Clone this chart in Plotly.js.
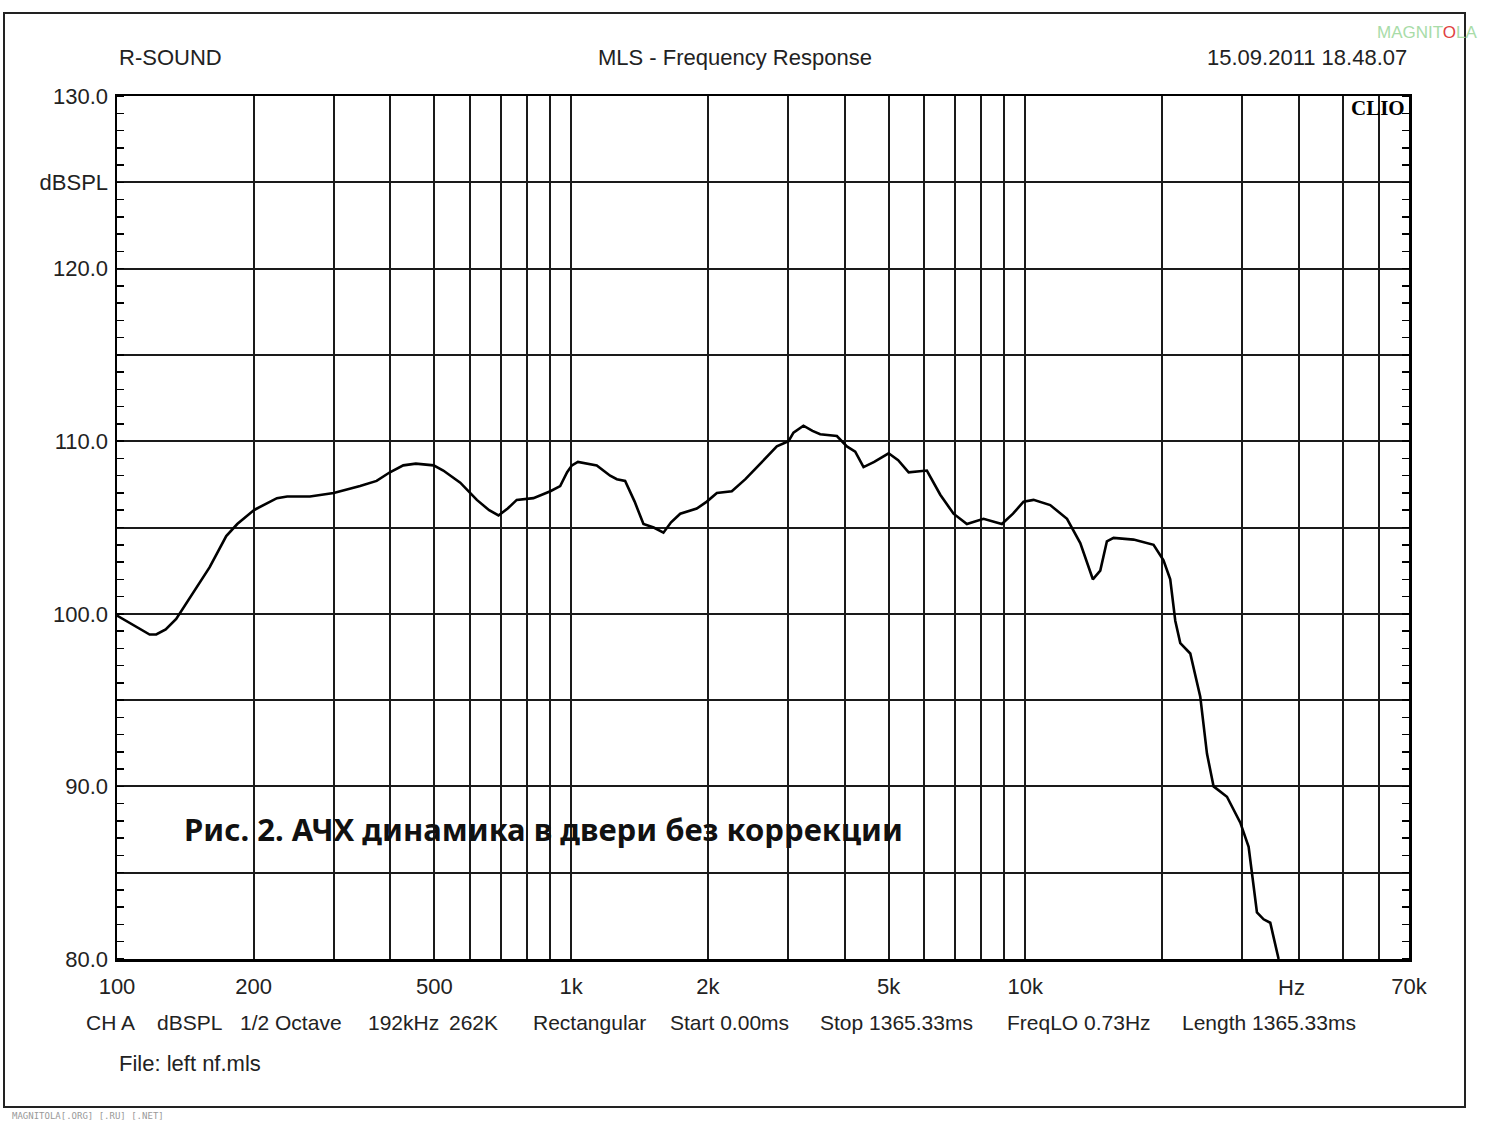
<!DOCTYPE html>
<html>
<head>
<meta charset="utf-8">
<script src="https://cdn.plot.ly/plotly-3.0.1.min.js"></script>
<style>
  html, body { margin: 0; padding: 0; background: #ffffff; }
  #chart { width: 1500px; height: 1126px; }
</style>
</head>
<body>
<div id="chart"></div>
<script>
// Frequency (Hz) of each read point
const freqHz = [100, 108, 118, 122, 128, 135, 147, 160, 174, 184, 200, 213, 225, 237, 266, 300, 343, 373, 399, 427, 455, 498, 523, 570, 620, 660, 692, 725, 759, 826, 900, 946, 980, 1004, 1035, 1139, 1219, 1261, 1315, 1380, 1443, 1520, 1597, 1660, 1739, 1891, 1990, 2094, 2259, 2420, 2609, 2838, 3011, 3088, 3248, 3400, 3536, 3848, 4048, 4223, 4405, 4650, 5002, 5250, 5537, 6073, 6500, 6952, 7440, 8094, 8884, 9400, 9915, 10430, 11350, 12360, 13220, 14090, 14630, 15130, 15650, 17320, 19170, 20160, 20860, 21400, 21950, 23090, 24290, 25130, 25990, 27810, 29760, 31040, 32380, 33490, 34640, 36140];
// Level (dBSPL) at each frequency
const levelDb = [99.9, 99.4, 98.8, 98.8, 99.1, 99.7, 101.2, 102.7, 104.5, 105.2, 106.0, 106.4, 106.7, 106.8, 106.8, 107.0, 107.4, 107.7, 108.2, 108.6, 108.7, 108.6, 108.3, 107.6, 106.6, 106.0, 105.7, 106.1, 106.6, 106.7, 107.1, 107.4, 108.2, 108.6, 108.8, 108.6, 108.0, 107.8, 107.7, 106.5, 105.2, 105.0, 104.7, 105.3, 105.8, 106.1, 106.5, 107.0, 107.1, 107.8, 108.7, 109.7, 110.0, 110.5, 110.9, 110.6, 110.4, 110.3, 109.7, 109.4, 108.5, 108.8, 109.3, 108.9, 108.2, 108.3, 106.9, 105.8, 105.2, 105.5, 105.2, 105.8, 106.5, 106.6, 106.3, 105.5, 104.1, 102.0, 102.5, 104.2, 104.4, 104.3, 104.0, 103.1, 102.0, 99.6, 98.3, 97.7, 95.2, 91.9, 90.0, 89.4, 87.9, 86.5, 82.7, 82.3, 82.1, 80.0];

// X grid positions and labels
const xGridHz = [100, 200, 300, 400, 500, 600, 700, 800, 900, 1000, 2000, 3000, 4000, 5000, 6000, 7000, 8000, 9000, 10000, 20000, 30000, 40000, 50000, 60000, 70000];
const xGridLabels = ["100", "200", "", "", "500", "", "", "", "", "1k", "2k", "", "", "5k", "", "", "", "", "10k", "", "", "", "", "", "70k"];
// Y grid positions and labels
const yGridDb = [80, 85, 90, 95, 100, 105, 110, 115, 120, 125, 130];
const yGridLabels = ["80.0", "", "90.0", "", "100.0", "", "110.0", "", "120.0", "dBSPL", "130.0"];

const headerLeft = "R-SOUND";
const headerCenter = "MLS - Frequency Response";
const headerRight = "15.09.2011 18.48.07";
const unitLabel = "Hz";
const infoItems = ["CH A", "dBSPL", "1/2 Octave", "192kHz", "262K", "Rectangular", "Start 0.00ms", "Stop 1365.33ms", "FreqLO 0.73Hz", "Length 1365.33ms"];
const fileLabel = "File: left nf.mls";
const captionText = "Рис. 2. АЧХ динамика в двери без коррекции";
const logoText = "CLIO";
const watermarkText = "MAGNITOLA[.ORG] [.RU] [.NET]";

// layout helpers (pixel positions of the page)
const W = 1500, H = 1126;
const L = 117, R = 1409, T = 96, B = 959;
const px = (x) => (x - L) / (R - L);
const py = (y) => (B - y) / (B - T);
const infoLeftPx = [84, 155, 238, 366, 447, 531, 668, 818, 1005, 1180];

const font = "Liberation Sans, Arial, sans-serif";
const txtColor = "#222222";

const trace = {
  x: freqHz, y: levelDb, type: "scatter", mode: "lines",
  line: { color: "#000000", width: 2.6, shape: "linear" },
  hoverinfo: "skip"
};

const textAnn = (text, x, y, anchor, size, fam, color) => ({
  text: text, xref: "paper", yref: "paper", x: px(x), y: py(y), xanchor: anchor, yanchor: "middle",
  showarrow: false, font: { family: fam || font, size: size || 22, color: color || txtColor }
});

const annotations = [
  textAnn(headerLeft, 117, 58, "left"),
  textAnn(headerCenter, 735, 58, "center"),
  textAnn(headerRight, 1409, 58, "right"),
  textAnn("<b>" + logoText + "</b>", 1407, 108, "right", 21, "Liberation Serif, serif", "#000"),
  textAnn(unitLabel, 1291, 987, "center"),
  textAnn(fileLabel, 117, 1063, "left"),
  textAnn("<b>" + captionText + "</b>", 182, 829, "left", 31, "Noto Sans, sans-serif", "#111"),
  textAnn(watermarkText, 10, 1116, "left", 9, "DejaVu Sans Mono, monospace", "#999"),
  textAnn("MAGNIT<span style='color:#e04040'>O</span>LA", 1480, 32, "right", 17, "Liberation Sans Narrow, Liberation Sans, sans-serif", "#a8dca8")
];
infoItems.forEach((t, i) => annotations.push(textAnn(t, infoLeftPx[i], 1023, "left", 21)));

const shapes = [
  { type: "rect", xref: "paper", yref: "paper", x0: px(4), x1: px(1465), y0: py(1107), y1: py(13), line: { color: "#222", width: 2 }, fillcolor: "rgba(0,0,0,0)", layer: "below" }
];

const layout = {
  width: W, height: H,
  margin: { l: L, r: W - R, t: T, b: H - B, pad: 0 },
  paper_bgcolor: "#ffffff", plot_bgcolor: "#ffffff",
  showlegend: false,
  xaxis: {
    type: "log", range: [2, Math.log10(70000)],
    tickmode: "array", tickvals: xGridHz, ticktext: xGridLabels,
    showgrid: true, gridcolor: "#1a1a1a", gridwidth: 2,
    showline: true, linecolor: "#000", linewidth: 2.5, mirror: true,
    ticks: "", ticklabelstandoff: 6,
    tickfont: { family: font, size: 22, color: txtColor },
    zeroline: false, fixedrange: true
  },
  yaxis: {
    range: [80, 130],
    tickmode: "array", tickvals: yGridDb, ticktext: yGridLabels,
    showgrid: true, gridcolor: "#1a1a1a", gridwidth: 2,
    showline: true, linecolor: "#000", linewidth: 2.5, mirror: "ticks",
    ticks: "", ticklabelstandoff: 2,
    minor: { dtick: 1, ticks: "inside", ticklen: 7, tickwidth: 1.5, tickcolor: "#000", showgrid: false },
    tickfont: { family: font, size: 22, color: txtColor },
    zeroline: false, fixedrange: true
  },
  annotations: annotations,
  shapes: shapes
};

Plotly.newPlot("chart", [trace], layout, { displayModeBar: false, staticPlot: true });
</script>
</body>
</html>
